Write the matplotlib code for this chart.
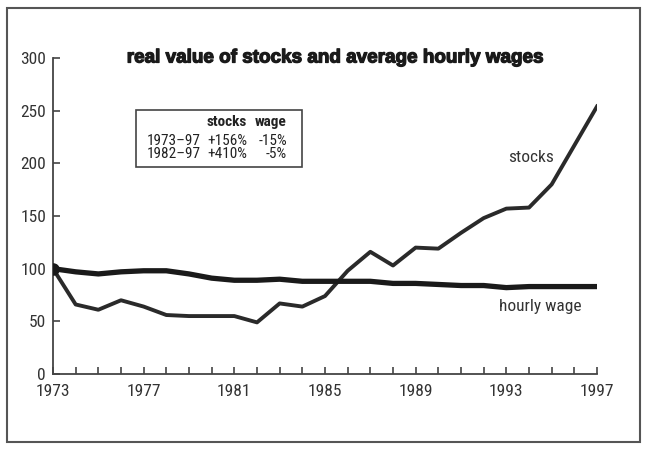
import matplotlib
matplotlib.use("Agg")
import matplotlib.pyplot as plt
import matplotlib.patheffects as pe
from matplotlib.patches import Rectangle

years = list(range(1973, 1998))
stocks = [100, 66, 61, 70, 64, 56, 55, 55, 55, 49, 67, 64, 74, 98, 116, 103, 120, 119,
          134, 148, 157, 158, 180, 217, 254]
wage = [100, 97, 95, 97, 98, 98, 95, 91, 89, 89, 90, 88, 88, 88, 88, 86, 86, 85,
        84, 84, 82, 83, 83, 83, 83]
xtick_labels = [1973, 1977, 1981, 1985, 1989, 1993, 1997]
yticks = [0, 50, 100, 150, 200, 250, 300]
table_rows = [["", "stocks", "wage"], ["1973\u201397", "+156%", "-15%"], ["1982\u201397", "+410%", "-5%"]]

plt.rcParams['font.family'] = ['Roboto Condensed', 'Liberation Sans', 'DejaVu Sans']

W, H = 647, 449
fig = plt.figure(figsize=(W / 100, H / 100), dpi=100)
fig.patch.set_facecolor('white')

# outer frame
fig.add_artist(Rectangle((7 / W, 1 - 442 / H), (640 - 7) / W, (442 - 8) / H,
                         transform=fig.transFigure, fill=False, edgecolor='#555555', lw=1.5))

ax = fig.add_axes([53 / W, 1 - 374 / H, (597 - 53) / W, (374 - 58) / H])
ax.plot(years, stocks, color='#2a2a2a', lw=2.8, zorder=3)
ax.plot(years, wage, color='#1a1a1a', lw=3.8, zorder=3)
ax.plot([years[0]], [stocks[0]], 'o', color='#1a1a1a', ms=8, zorder=4)

ax.set_xlim(1973, 1997)
ax.set_ylim(0, 300)
ax.spines['top'].set_visible(False)
ax.spines['right'].set_visible(False)
for s in ['left', 'bottom']:
    ax.spines[s].set_color('#444444')
    ax.spines[s].set_linewidth(1.3)
ax.set_xticks(years)
ax.set_xticklabels([str(y) if y in xtick_labels else '' for y in years])
ax.set_yticks(yticks)
ax.tick_params(axis='both', direction='in', length=5, width=1.2, color='#444444',
               labelsize=12.5, labelcolor='#333333')
ax.tick_params(axis='x', pad=7)
ax.tick_params(axis='y', pad=5)

fig.text(335 / W, 1 - 58 / H, 'real value of stocks and average hourly wages',
         ha='center', va='center', fontsize=13.6, fontweight='bold', color='#1a1a1a',
         family=['Liberation Sans', 'DejaVu Sans'],
         path_effects=[pe.withStroke(linewidth=0.9, foreground='#1a1a1a')])

ax.text(1994.1, 206, 'stocks', fontsize=12.5, color='#333333', ha='center', va='center')
ax.text(1994.5, 64.5, 'hourly wage', fontsize=12.5, color='#333333', ha='center', va='center')

# summary table box
fig.add_artist(Rectangle((136 / W, 1 - 167 / H), (302 - 136) / W, (167 - 110) / H,
                         transform=fig.transFigure, fill=False, edgecolor='#444444', lw=1.2))
col_x = [147, 247, 287]
col_ha = ['left', 'right', 'right']
row_y = [122, 141, 154]
for r, row in enumerate(table_rows):
    for c, txt in enumerate(row):
        if not txt:
            continue
        fig.text(col_x[c] / W, 1 - row_y[r] / H, txt, ha=col_ha[c], va='center',
                 fontsize=11, color='#222222',
                 fontweight='bold' if r == 0 else 'normal')

fig.savefig('out.png', dpi=100, facecolor='white')
